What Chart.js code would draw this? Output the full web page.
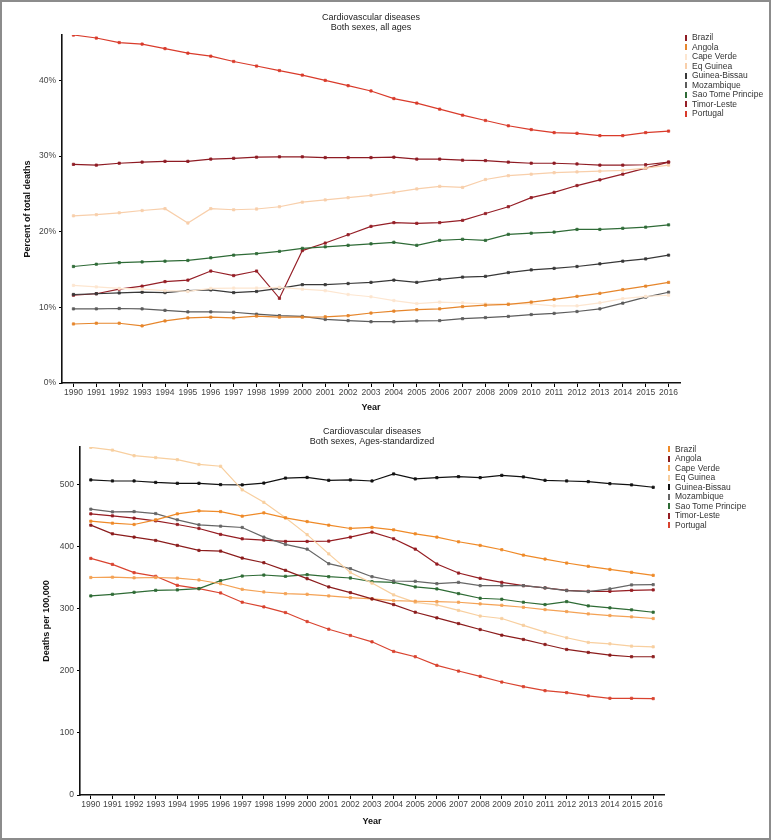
<!DOCTYPE html>
<html lang="en">
<head>
<meta charset="utf-8"/>
<title>Cardiovascular diseases</title>
<script src="https://cdn.jsdelivr.net/npm/chart.js"></script>
<style>
  body { margin: 0; background: #fff; font-family: 'Liberation Sans Narrow', 'Liberation Sans', Arial, sans-serif; }
  .frame { position: relative; width: 771px; height: 840px; overflow: hidden; background: #fff; }
  .frame canvas { position: absolute; left: 0; }
  .edge { position: absolute; left: 0; top: 0; width: 771px; height: 840px; box-sizing: border-box; border: 2px solid #8c8c8c; pointer-events: none; }
  .legend { position: absolute; font-size: 8.5px; color: #333; }
  .legend div { height: 9.55px; line-height: 9.55px; white-space: nowrap; }
  .legend span { display: inline-block; width: 2px; height: 6px; margin-right: 5px; vertical-align: -0.5px; }
</style>
</head>
<body>
<div class="frame">
  <canvas id="pct-chart" width="771" height="415" style="top:0"></canvas>
  <canvas id="rate-chart" width="771" height="425" style="top:415px"></canvas>
  <div class="legend" id="pct-legend" style="left:685px; top:33px"></div>
  <div class="legend" id="rate-legend" style="left:668px; top:444.5px"></div>
  <div class="edge"></div>
</div>
<script>
// categories
const years = ['1990','1991','1992','1993','1994','1995','1996','1997','1998','1999','2000','2001','2002','2003',
               '2004','2005','2006','2007','2008','2009','2010','2011','2012','2013','2014','2015','2016'];
const countries = ['Brazil','Angola','Cape Verde','Eq Guinea','Guinea-Bissau','Mozambique','Sao Tome Principe','Timor-Leste','Portugal'];

// percent of total deaths, all ages
const brazilPct       = [28.9,28.8,29.05,29.2,29.3,29.3,29.6,29.7,29.85,29.9,29.9,29.8,29.8,29.8,29.85,29.6,29.6,29.45,29.4,29.2,29.05,29.05,28.95,28.8,28.8,28.85,29.2];
const angolaPct       = [7.8,7.9,7.9,7.55,8.2,8.6,8.7,8.6,8.85,8.7,8.7,8.75,8.9,9.25,9.5,9.7,9.8,10.1,10.3,10.4,10.7,11.05,11.45,11.85,12.35,12.8,13.3];
const capeVerdePct    = [12.9,12.7,12.5,12.4,12.2,12.1,12.5,12.55,12.55,12.65,12.4,12.2,11.7,11.4,10.9,10.5,10.7,10.6,10.45,10.5,10.45,10.2,10.2,10.6,11.15,11.45,11.6];
const eqGuineaPct     = [22.1,22.25,22.5,22.8,23.05,21.15,23.05,22.9,23.0,23.3,23.9,24.2,24.5,24.8,25.2,25.65,26.0,25.85,26.9,27.4,27.6,27.8,27.9,28.0,28.1,28.4,28.8];
const guineaBissauPct = [11.7,11.8,11.9,12.0,11.95,12.2,12.3,11.95,12.1,12.5,13.0,13.0,13.15,13.3,13.6,13.3,13.7,14.0,14.1,14.6,14.95,15.15,15.4,15.75,16.1,16.4,16.9];
const mozambiquePct   = [9.8,9.8,9.85,9.8,9.6,9.4,9.4,9.35,9.1,8.9,8.8,8.4,8.25,8.1,8.1,8.2,8.25,8.5,8.65,8.8,9.05,9.2,9.45,9.8,10.55,11.35,12.0];
const saoTomePct      = [15.4,15.7,15.9,16.0,16.1,16.2,16.55,16.9,17.1,17.4,17.8,18.0,18.2,18.4,18.6,18.2,18.85,19.0,18.85,19.65,19.8,19.95,20.3,20.3,20.45,20.6,20.9];
const timorPct        = [11.6,11.8,12.4,12.8,13.4,13.6,14.8,14.2,14.8,11.2,17.5,18.5,19.6,20.7,21.2,21.1,21.2,21.5,22.4,23.3,24.5,25.2,26.1,26.85,27.6,28.4,29.2];
const portugalPct     = [46.0,45.6,45.0,44.8,44.2,43.6,43.2,42.5,41.9,41.3,40.7,40.0,39.3,38.6,37.6,37.0,36.2,35.4,34.7,34.0,33.5,33.1,33.0,32.7,32.7,33.1,33.3];

// deaths per 100,000, age-standardized
const brazilRate       = [440.6,437.4,435.3,442.8,452.4,457.2,456.1,448.7,454,446,440,434.2,428.9,430.5,426.7,420.3,415,407.5,401.6,394.7,386,379.7,373.3,368,363,358.3,353.5];
const angolaRate       = [434.2,420.3,415,409.6,401.6,393.6,392.5,381.3,373.8,361.5,348.1,334.8,325.7,315.5,306.4,294.1,285,275.9,266.3,257.2,250.3,242.2,234.2,229.4,225.1,222.5,222.5];
const capeVerdeRate    = [350,350.5,349.5,350,349,346,340,331,326.7,324,323,320.3,317.6,315.5,312.8,311.8,311.2,310.2,307.5,305.3,302.1,298.4,295.2,291.4,288.8,286.6,284];
const eqGuineaRate     = [559.4,555,546,543,539.6,532,529,491,471,446,419,388,358,341,322,310,306,297,288,284,273,262,253,245.5,243.3,239.6,238.5];
const guineaBissauRate = [507,505.3,505.3,503,501.6,501.6,499.5,499,502,510,511,506.4,507,505.3,516.6,508.6,510.7,512.3,510.7,514.4,511.8,506.4,505.3,504.3,501,499,495.2];
const mozambiqueRate   = [459.9,455.6,456.1,452.9,442.8,434.8,432.6,430.5,415,403.2,395.7,372.2,364.2,351.3,344.4,343.9,340.1,342.2,336.9,336.9,336.9,333.2,328.9,327.3,331.6,338,338.5];
const saoTomeRate      = [320.3,323,326.2,329.4,330,332.1,344.9,352.4,354,351.9,354.5,351.3,349.2,343.3,342.2,334.8,331.6,324.1,316.6,315,310.2,306.4,311.2,304.3,301.1,297.9,294.1];
const timorRate        = [452.4,449.2,445.5,441.2,435.3,428.9,419.3,412.3,410.2,408,408,408.6,415,423,412.3,395.7,371.7,357.2,348.7,342.2,336.9,333.2,329.4,327.8,327.8,329.4,330];
const portugalRate     = [380.7,371.1,357.8,351.9,337.4,332.1,325.1,310.2,302.7,293.6,279.1,266.8,256.7,246.5,231,222.5,208.6,199.5,190.9,181.8,174.3,167.9,164.7,159.4,155.6,155.6,155.1];

// tick values
const pctTicks = [0, 10, 20, 30, 40];
const rateTicks = [0, 100, 200, 300, 400, 500];

const pctColors  = ['#8e1b23','#e6862c','#fde6d0','#f8cfab','#383838','#5c5c5c','#2f6b37','#951f27','#d93b2b'];
const rateColors = ['#ef8a28','#8b1c1c','#f4a255','#f8cf9f','#111111','#666666','#2e6b35','#951d22','#d9432f'];

Chart.defaults.font.family = "'Liberation Sans Narrow', 'Liberation Sans', Arial, sans-serif";
Chart.defaults.font.size = 9;
Chart.defaults.color = '#333';

function datasets(series, colors) {
  return series.map((data, i) => ({
    label: countries[i],
    data: data,
    borderColor: colors[i],
    backgroundColor: colors[i],
    borderWidth: 1.2,
    pointStyle: 'rect',
    pointRadius: 1.6,
    pointBorderWidth: 0.8,
    tension: 0
  }));
}

function buildChart(id, opts) {
  return new Chart(document.getElementById(id), {
    type: 'line',
    data: { labels: years, datasets: datasets(opts.series, opts.colors) },
    options: {
      responsive: false,
      animation: false,
      layout: { padding: opts.padding },
      plugins: {
        legend: { display: false },
        tooltip: { enabled: false },
        title: { display: true, text: 'Cardiovascular diseases', fullSize: false, color: '#222',
                 font: { size: 9, weight: 'normal', lineHeight: 1.1 }, padding: { top: 0, bottom: 0 } },
        subtitle: { display: true, text: opts.subtitle, fullSize: false, color: '#222',
                    font: { size: 9, lineHeight: 1.1 }, padding: { top: 0, bottom: opts.subPad } }
      },
      scales: {
        x: {
          offset: true,
          grid: { display: true, drawOnChartArea: false, offset: false, tickLength: 4, color: '#000', lineWidth: 1 },
          border: { display: true, color: '#111', width: 1.6 },
          ticks: { autoSkip: false, maxRotation: 0, padding: 1, color: '#444', font: { size: 8.5 } },
          title: { display: true, text: 'Year', color: '#111', font: { size: 9, weight: 'bold', lineHeight: 1.2 },
                   padding: { top: 0, bottom: opts.yearPad } },
          afterFit: s => { s.height = opts.xHeight; }
        },
        y: {
          min: 0,
          max: opts.max,
          grid: { display: true, drawOnChartArea: false, tickLength: 3, color: '#000', lineWidth: 1 },
          border: { display: true, color: '#111', width: 1.6 },
          ticks: { padding: 3, color: '#444', font: { size: 8.5 }, callback: opts.tickFmt },
          afterBuildTicks: axis => { axis.ticks = opts.ticks.map(v => ({ value: v })); },
          title: { display: true, text: opts.yTitle, color: '#111', font: { size: 9, weight: 'bold', lineHeight: 1.2 },
                   padding: { top: opts.yTitleX, bottom: 0 } },
          afterFit: s => { s.width = opts.yWidth; }
        }
      }
    }
  });
}

buildChart('pct-chart', {
  series: [brazilPct, angolaPct, capeVerdePct, eqGuineaPct, guineaBissauPct, mozambiquePct, saoTomePct, timorPct, portugalPct],
  colors: pctColors,
  subtitle: 'Both sexes, all ages',
  subPad: 2.2,
  padding: { top: 13, left: 0, right: 91, bottom: 0 },
  xHeight: 32, yearPad: 1.6,
  yWidth: 62, yTitleX: 22,
  max: 46, ticks: pctTicks, tickFmt: v => v + '%',
  yTitle: 'Percent of total deaths'
});

buildChart('rate-chart', {
  series: [brazilRate, angolaRate, capeVerdeRate, eqGuineaRate, guineaBissauRate, mozambiqueRate, saoTomeRate, timorRate, portugalRate],
  colors: rateColors,
  subtitle: 'Both sexes, Ages-standardized',
  subPad: 0.2,
  padding: { top: 12, left: 0, right: 107, bottom: 10 },
  xHeight: 35, yearPad: 2.6,
  yWidth: 80, yTitleX: 41,
  max: 560, ticks: rateTicks, tickFmt: v => v,
  yTitle: 'Deaths per 100,000'
});

function fillLegend(id, colors) {
  document.getElementById(id).innerHTML = countries
    .map((name, i) => `<div><span style="background:${colors[i]}"></span>${name}</div>`)
    .join('');
}
fillLegend('pct-legend', pctColors);
fillLegend('rate-legend', rateColors);
</script>
</body>
</html>
